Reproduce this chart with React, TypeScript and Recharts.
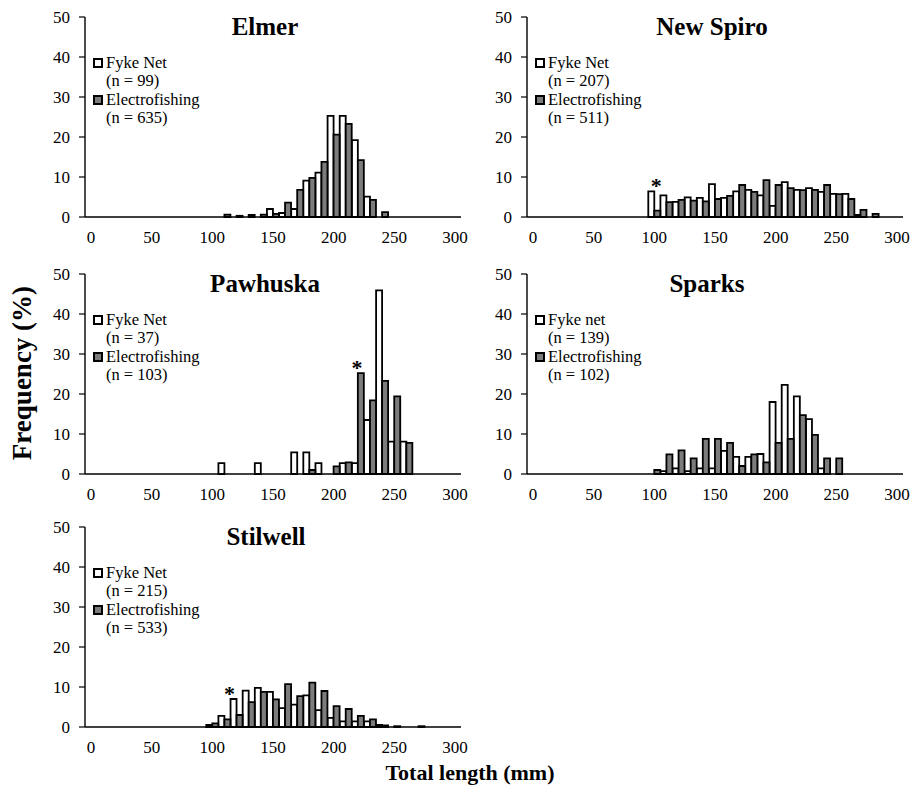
import React from "react";
import { BarChart, Bar, XAxis, YAxis, ReferenceDot } from "recharts";

// length classes (mm), 10 mm bins
const LENGTHS = [0, 10, 20, 30, 40, 50, 60, 70, 80, 90, 100, 110, 120, 130, 140, 150, 160, 170, 180, 190, 200, 210, 220, 230, 240, 250, 260, 270, 280, 290, 300];
const BIN_EDGES = [0, 10, 20, 30, 40, 50, 60, 70, 80, 90, 100, 110, 120, 130, 140, 150, 160, 170, 180, 190, 200, 210, 220, 230, 240, 250, 260, 270, 280, 290, 300, 310];
const Y_TICKS = [0, 10, 20, 30, 40, 50];

// frequency (%) per length class
const ELMER_FYKE = [0, 0, 0, 0, 0, 0, 0, 0, 0, 0, 0, 0, 0, 0, 0, 2.0, 1.0, 2.0, 9.1, 11.1, 25.3, 25.3, 19.2, 5.1, 0, 0, 0, 0, 0, 0, 0];
const ELMER_ELECTRO = [0, 0, 0, 0, 0, 0, 0, 0, 0, 0, 0, 0.6, 0.3, 0.5, 0.6, 0.8, 3.6, 6.8, 9.8, 13.8, 20.6, 23.3, 14.2, 4.3, 1.2, 0, 0, 0, 0, 0, 0];

const SPIRO_FYKE = [0, 0, 0, 0, 0, 0, 0, 0, 0, 0, 6.4, 5.4, 3.8, 4.9, 4.8, 8.2, 4.8, 6.4, 6.8, 5.4, 2.8, 8.7, 6.8, 7.2, 6.3, 5.8, 5.8, 0.5, 0, 0, 0];
const SPIRO_ELECTRO = [0, 0, 0, 0, 0, 0, 0, 0, 0, 0, 1.6, 3.7, 4.3, 4.1, 3.9, 4.5, 5.3, 8.0, 6.3, 9.2, 8.0, 7.2, 6.7, 6.8, 8.0, 5.7, 4.5, 1.8, 0.8, 0, 0];

const PAW_FYKE = [0, 0, 0, 0, 0, 0, 0, 0, 0, 0, 0, 2.7, 0, 0, 2.7, 0, 0, 5.4, 5.4, 2.7, 0, 2.7, 2.7, 13.5, 45.9, 8.1, 8.1, 0, 0, 0, 0];
const PAW_ELECTRO = [0, 0, 0, 0, 0, 0, 0, 0, 0, 0, 0, 0, 0, 0, 0, 0, 0, 0, 1.0, 0, 1.9, 2.9, 25.2, 18.4, 23.3, 19.4, 7.8, 0, 0, 0, 0];

const SPARKS_FYKE = [0, 0, 0, 0, 0, 0, 0, 0, 0, 0, 0, 0.7, 1.4, 0.7, 1.4, 1.4, 5.8, 4.3, 4.3, 5.0, 18.0, 22.3, 19.4, 13.7, 1.4, 0, 0, 0, 0, 0, 0];
const SPARKS_ELECTRO = [0, 0, 0, 0, 0, 0, 0, 0, 0, 0, 1.0, 4.9, 5.9, 3.9, 8.8, 8.8, 7.8, 2.0, 4.9, 2.9, 7.8, 8.8, 14.7, 9.8, 3.9, 3.9, 0, 0, 0, 0, 0];

const STIL_FYKE = [0, 0, 0, 0, 0, 0, 0, 0, 0, 0, 0.5, 2.8, 7.0, 9.1, 9.8, 8.8, 4.7, 5.6, 7.9, 4.2, 2.3, 1.4, 1.4, 1.4, 0.5, 0, 0, 0, 0, 0, 0];
const STIL_ELECTRO = [0, 0, 0, 0, 0, 0, 0, 0, 0, 0, 0.9, 1.9, 3.0, 6.2, 8.8, 6.9, 10.7, 7.7, 11.1, 9.0, 5.2, 4.5, 2.8, 1.9, 0.4, 0.2, 0, 0.2, 0, 0, 0];

const FONT = '"Liberation Serif", "Times New Roman", serif';
const GRAY = "#7c7c7c";

type Star = { len: number; key: "fyke" | "electro"; dx: number };
type Site = {
  name: string;
  fyke: number[];
  electro: number[];
  fykeLabel: string;
  nFyke: number;
  nElectro: number;
  x: number; // y-axis position on page
  y: number; // top of plot on page
  titleX: number;
  star?: Star;
};

const SITES: Site[] = [
  { name: "Elmer", fyke: ELMER_FYKE, electro: ELMER_ELECTRO, fykeLabel: "Fyke Net", nFyke: 99, nElectro: 635, x: 85, y: 17, titleX: 265 },
  { name: "New Spiro", fyke: SPIRO_FYKE, electro: SPIRO_ELECTRO, fykeLabel: "Fyke Net", nFyke: 207, nElectro: 511, x: 527, y: 17, titleX: 712, star: { len: 100, key: "fyke", dx: 2 } },
  { name: "Pawhuska", fyke: PAW_FYKE, electro: PAW_ELECTRO, fykeLabel: "Fyke Net", nFyke: 37, nElectro: 103, x: 85, y: 274, titleX: 265, star: { len: 220, key: "electro", dx: -1 } },
  { name: "Sparks", fyke: SPARKS_FYKE, electro: SPARKS_ELECTRO, fykeLabel: "Fyke net", nFyke: 139, nElectro: 102, x: 527, y: 274, titleX: 707 },
  { name: "Stilwell", fyke: STIL_FYKE, electro: STIL_ELECTRO, fykeLabel: "Fyke Net", nFyke: 215, nElectro: 533, x: 85, y: 527, titleX: 266, star: { len: 120, key: "fyke", dx: -7 } },
];

const Y_W = 50;
const TOP_PAD = 10;
const LINE = 18.6;

function LegendBox({ site }: { site: Site }) {
  const row = { height: LINE, lineHeight: `${LINE}px`, whiteSpace: "nowrap" as const };
  const sq = (bg: string, top: number) => (
    <div style={{ position: "absolute", left: 0, top, width: 10, height: 10, boxSizing: "border-box", border: "2px solid #000", background: bg }} />
  );
  return (
    <div style={{ position: "absolute", left: Y_W + 8, top: TOP_PAD + 46 - LINE / 2, fontFamily: FONT, fontSize: 16.5, color: "#000" }}>
      {sq("#fff", LINE / 2 - 5)}
      {sq(GRAY, LINE * 2.5 - 5)}
      <div style={{ marginLeft: 13 }}>
        <div style={row}>{site.fykeLabel}</div>
        <div style={row}>(n = {site.nFyke})</div>
        <div style={row}>Electrofishing</div>
        <div style={row}>(n = {site.nElectro})</div>
      </div>
    </div>
  );
}

function Panel({ site }: { site: Site }) {
  const data = LENGTHS.map((len, i) => ({ len, fyke: site.fyke[i], electro: site.electro[i] }));
  const left = site.x - Y_W;
  const top = site.y - TOP_PAD;
  const star = site.star;
  const starRow = star ? data.find((d) => d.len === star.len) : undefined;
  return (
    <div style={{ position: "absolute", left, top, width: 436, height: 245 }}>
      <BarChart
        width={436}
        height={245}
        data={data}
        margin={{ top: TOP_PAD, right: 10, bottom: 0, left: 0 }}
        barCategoryGap={0}
        barGap={0}
      >
        <XAxis
          xAxisId="edge"
          type="number"
          domain={[0, 310]}
          ticks={BIN_EDGES}
          allowDataOverflow
          interval={0}
          tick={false}
          tickSize={5}
          height={5}
          axisLine={{ stroke: "#000", strokeWidth: 1.4 }}
          tickLine={{ stroke: "#000", strokeWidth: 1.2 }}
        />
        <XAxis
          xAxisId="lab"
          dataKey="len"
          type="category"
          interval={4}
          axisLine={false}
          tickLine={false}
          tickSize={0}
          tickMargin={9}
          height={30}
          tick={{ fill: "#000", fontSize: 17, fontFamily: FONT }}
        />
        <YAxis
          domain={[0, 50]}
          ticks={Y_TICKS}
          interval={0}
          width={Y_W}
          tickSize={6}
          tickMargin={9}
          axisLine={{ stroke: "#000", strokeWidth: 1.4 }}
          tickLine={{ stroke: "#000", strokeWidth: 1.2 }}
          tick={{ fill: "#000", fontSize: 17, fontFamily: FONT }}
        />
        <Bar xAxisId="lab" dataKey="fyke" fill="#fff" stroke="#000" strokeWidth={1.8} isAnimationActive={false} />
        <Bar xAxisId="lab" dataKey="electro" fill={GRAY} stroke="#000" strokeWidth={1.8} isAnimationActive={false} />
        {star && starRow && (
          <ReferenceDot
            xAxisId="lab"
            x={star.len}
            y={starRow[star.key]}
            r={0}
            fill="none"
            stroke="none"
            label={{ value: "*", position: "top", offset: -2, dx: star.dx, fill: "#000", fontSize: 22, fontWeight: "bold", fontFamily: FONT }}
          />
        )}
      </BarChart>
      <div
        style={{
          position: "absolute",
          left: site.titleX - left - 100,
          top: TOP_PAD - 4,
          width: 200,
          textAlign: "center",
          fontFamily: FONT,
          fontWeight: "bold",
          fontSize: 25,
          lineHeight: "28px",
          color: "#000",
        }}
      >
        {site.name}
      </div>
      <LegendBox site={site} />
    </div>
  );
}

export default function App() {
  return (
    <div style={{ position: "absolute", left: 0, top: 0, width: 913, height: 788, background: "#fff", overflow: "hidden" }}>
      {SITES.map((s) => (
        <Panel key={s.name} site={s} />
      ))}
      <div
        style={{
          position: "absolute",
          left: 22 - 120,
          top: 373 - 16,
          width: 240,
          height: 32,
          lineHeight: "32px",
          textAlign: "center",
          transform: "rotate(-90deg)",
          fontFamily: FONT,
          fontWeight: "bold",
          fontSize: 27,
          color: "#000",
        }}
      >
        Frequency (%)
      </div>
      <div
        style={{
          position: "absolute",
          left: 470 - 150,
          top: 773 - 14,
          width: 300,
          lineHeight: "28px",
          textAlign: "center",
          fontFamily: FONT,
          fontWeight: "bold",
          fontSize: 22,
          color: "#000",
        }}
      >
        Total length (mm)
      </div>
    </div>
  );
}
